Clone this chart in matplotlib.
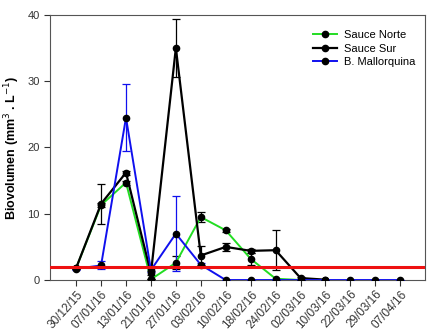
import matplotlib
matplotlib.use("Agg")
import matplotlib.pyplot as plt
import numpy as np

plt.rcParams['font.family'] = ['Liberation Sans', 'DejaVu Sans']

dates = ["30/12/15", "07/01/16", "13/01/16", "21/01/16", "27/01/16", "03/02/16", "10/02/16",
         "18/02/16", "24/02/16", "02/03/16", "10/03/16", "22/03/16", "29/03/16", "07/04/16"]

norte = [1.8, 11.3, 14.7, 0.1, 2.6, 9.5, 7.5, 3.2, 0.2, 0.0]
norte_err = [0.2, 0.3, 0.3, 0.0, 1.0, 0.7, 0.2, 0.95, 0.0, 0.0]

sur = [1.8, 11.5, 16.2, 1.0, 35.0, 3.7, 5.0, 4.4, 4.5, 0.3, 0.05]
sur_err = [0.2, 3.0, 0.3, 0.3, 4.4, 1.4, 0.6, 0.3, 3.0, 0.1, 0.0]

mallorquina = [1.7, 2.2, 24.5, 1.5, 7.0, 2.3, 0.0, 0.0, 0.0, 0.0, 0.0, 0.0, 0.0, 0.0]
mallorquina_err = [0.2, 0.6, 5.1, 0.3, 5.7, 0.2, 0.0, 0.0, 0.0, 0.0, 0.0, 0.0, 0.0, 0.0]

threshold = 2.0

fig = plt.figure(figsize=(4.42, 3.31), dpi=100)
ax = fig.add_axes([0.113, 0.154, 0.849, 0.801])

x = np.arange(len(dates))

def draw(vals, errs, color, ecolor, label, lw):
    xx = x[:len(vals)]
    ax.errorbar(xx, vals, yerr=errs, fmt='none', ecolor=ecolor, elinewidth=0.9,
                capsize=3, capthick=0.9, zorder=3)
    ax.plot(xx, vals, color=color, lw=lw, marker='o', markersize=4.5,
            markerfacecolor='black', markeredgecolor='black', label=label, zorder=4)

draw(norte, norte_err, '#22dd22', 'black', 'Sauce Norte', 1.4)
draw(sur, sur_err, 'black', 'black', 'Sauce Sur', 1.6)
draw(mallorquina, mallorquina_err, '#1010ee', '#1010ee', 'B. Mallorquina', 1.4)

ax.axhline(threshold, color='#ee1111', lw=2.2, zorder=5)

ax.set_xlim(-1.05, 14.0)
ax.set_ylim(0, 40)
ax.set_yticks([0, 10, 20, 30, 40])
ax.set_xticks(x)
ax.set_xticklabels(dates, rotation=48, ha='right', rotation_mode='anchor')
ax.tick_params(axis='both', labelsize=8, colors='#333333', length=4, width=0.8, direction='out')
ax.tick_params(axis='x', labelsize=8.5, pad=2)
for s in ax.spines.values():
    s.set_color('#555555')
    s.set_linewidth(0.8)

ax.set_ylabel(r'Biovolumen (mm$^{3}$ . L$^{-1}$)', fontsize=9, fontweight='bold')

leg = ax.legend(loc='upper right', bbox_to_anchor=(1.0, 0.98), frameon=False,
                fontsize=8, handlelength=2.2, labelspacing=0.3, handletextpad=0.6)

fig.savefig('out.png', dpi=100)
